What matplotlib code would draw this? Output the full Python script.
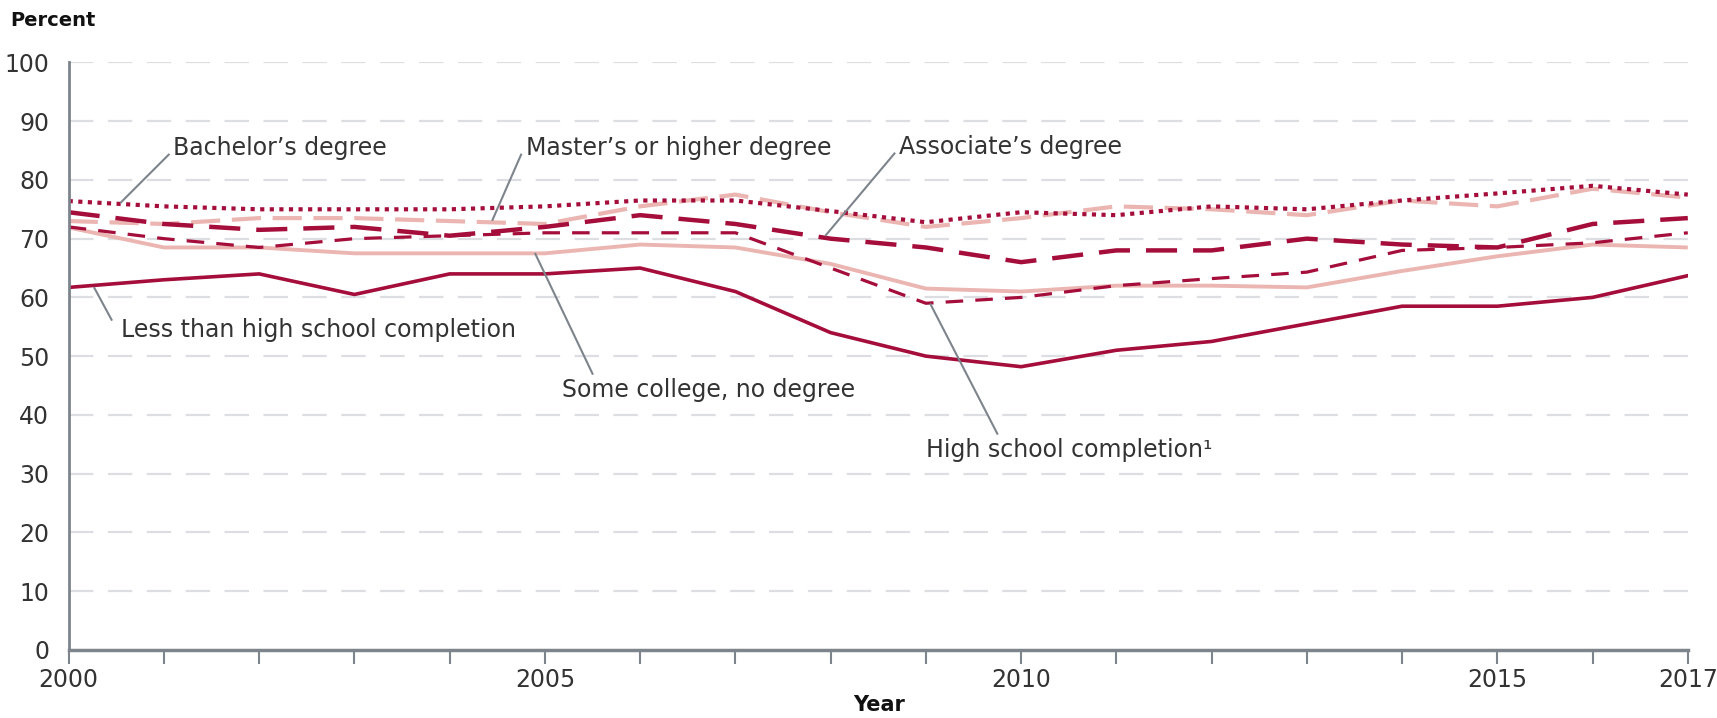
import matplotlib
matplotlib.use("Agg")
import matplotlib.pyplot as plt

# data
years = list(range(2000, 2018))
less_hs = [61.7, 63, 64, 60.5, 64, 64, 65, 61, 54, 50, 48.2, 51, 52.5, 55.5, 58.5, 58.5, 60, 63.7]
hs = [72, 70, 68.5, 70, 70.5, 71, 71, 71, 65, 59, 60, 62, 63.2, 64.3, 68, 68.5, 69.3, 71]
some_college = [71.9, 68.5, 68.5, 67.5, 67.5, 67.5, 69, 68.5, 65.7, 61.5, 61, 62, 62, 61.7, 64.5, 67, 69, 68.5]
associates = [74.5, 72.5, 71.5, 72, 70.5, 72, 74, 72.5, 70, 68.5, 66, 68, 68, 70, 69, 68.5, 72.5, 73.5]
bachelors = [76.4, 75.5, 75, 75, 75, 75.5, 76.5, 76.5, 74.7, 72.8, 74.5, 74, 75.5, 75, 76.5, 77.7, 79, 77.5]
masters = [73, 72.5, 73.5, 73.5, 73, 72.5, 75.5, 77.5, 74.5, 72, 73.5, 75.5, 75, 74, 76.5, 75.5, 78.5, 77]

x_labels = {2000: "2000", 2005: "2005", 2010: "2010", 2015: "2015", 2017: "2017"}
y_ticks = list(range(0, 101, 10))

dark = "#A50D3B"
light = "#EBB5B2"
grey = "#7D848C"
txt = "#333333"

plt.rcParams["font.family"] = ["DejaVu Sans"]

fig = plt.figure(figsize=(17.17, 7.18), dpi=100)
ax = fig.add_axes([0.040, 0.095, 0.943, 0.818])

# gridlines
for v in y_ticks[1:]:
    ax.axhline(v, color="#DCDEE2", lw=1.6, dashes=(11, 6.5), zorder=0)

ax.plot(years, some_college, color=light, lw=2.8, solid_capstyle="butt")
ax.plot(years, masters, color=light, lw=3.0, dashes=(7, 2.8))
ax.plot(years, less_hs, color=dark, lw=2.6)
ax.plot(years, hs, color=dark, lw=2.3, dashes=(5.5, 3.8))
ax.plot(years, associates, color=dark, lw=3.2, dashes=(7, 3.6))
ax.plot(years, bachelors, color=dark, lw=3.0, dashes=(1, 1.3))

ax.set_xlim(2000, 2017)
ax.set_ylim(0, 100)

ax.set_xticks(years)
ax.set_xticklabels([x_labels.get(y, "") for y in years], fontsize=17, color=txt)
ax.set_yticks(y_ticks)
ax.set_yticklabels([str(v) for v in y_ticks], fontsize=17, color=txt)
ax.tick_params(axis="x", direction="out", length=10, width=1.5, color=grey, pad=3)
ax.tick_params(axis="y", length=0, pad=14)

for s in ["top", "right"]:
    ax.spines[s].set_visible(False)
ax.spines["left"].set_color(grey)
ax.spines["left"].set_linewidth(2)
ax.spines["bottom"].set_color(grey)
ax.spines["bottom"].set_linewidth(2.5)

# labels with leader lines
notes = [
    ("Bachelor\u2019s degree", (2000.55, 76.2), (2001.1, 85.4), (2001.05, 84.3)),
    ("Master\u2019s or higher degree", (2004.45, 73.2), (2004.8, 85.4), (2004.75, 84.3)),
    ("Associate\u2019s degree", (2007.95, 70.6), (2008.72, 85.6), (2008.67, 84.5)),
    ("Less than high school completion", (2000.27, 61.6), (2000.55, 54.4), (2000.45, 56.2)),
    ("Some college, no degree", (2004.9, 67.4), (2005.18, 44.2), (2005.5, 47.0)),
    ("High school completion\u00b9", (2009.05, 58.8), (2009.0, 34.0), (2009.75, 36.8)),
]
for label, pt, tpos, lstart in notes:
    ax.plot([lstart[0], pt[0]], [lstart[1], pt[1]], color=grey, lw=1.5, zorder=5)
    ax.text(tpos[0], tpos[1], label, fontsize=17, color=txt, ha="left", va="center")

fig.text(0.006, 0.972, "Percent", fontsize=14, fontweight="bold", color="#111111", ha="left", va="center")
fig.text(0.512, 0.018, "Year", fontsize=15, fontweight="bold", color="#111111", ha="center", va="center")

fig.savefig("out.png", dpi=100)
